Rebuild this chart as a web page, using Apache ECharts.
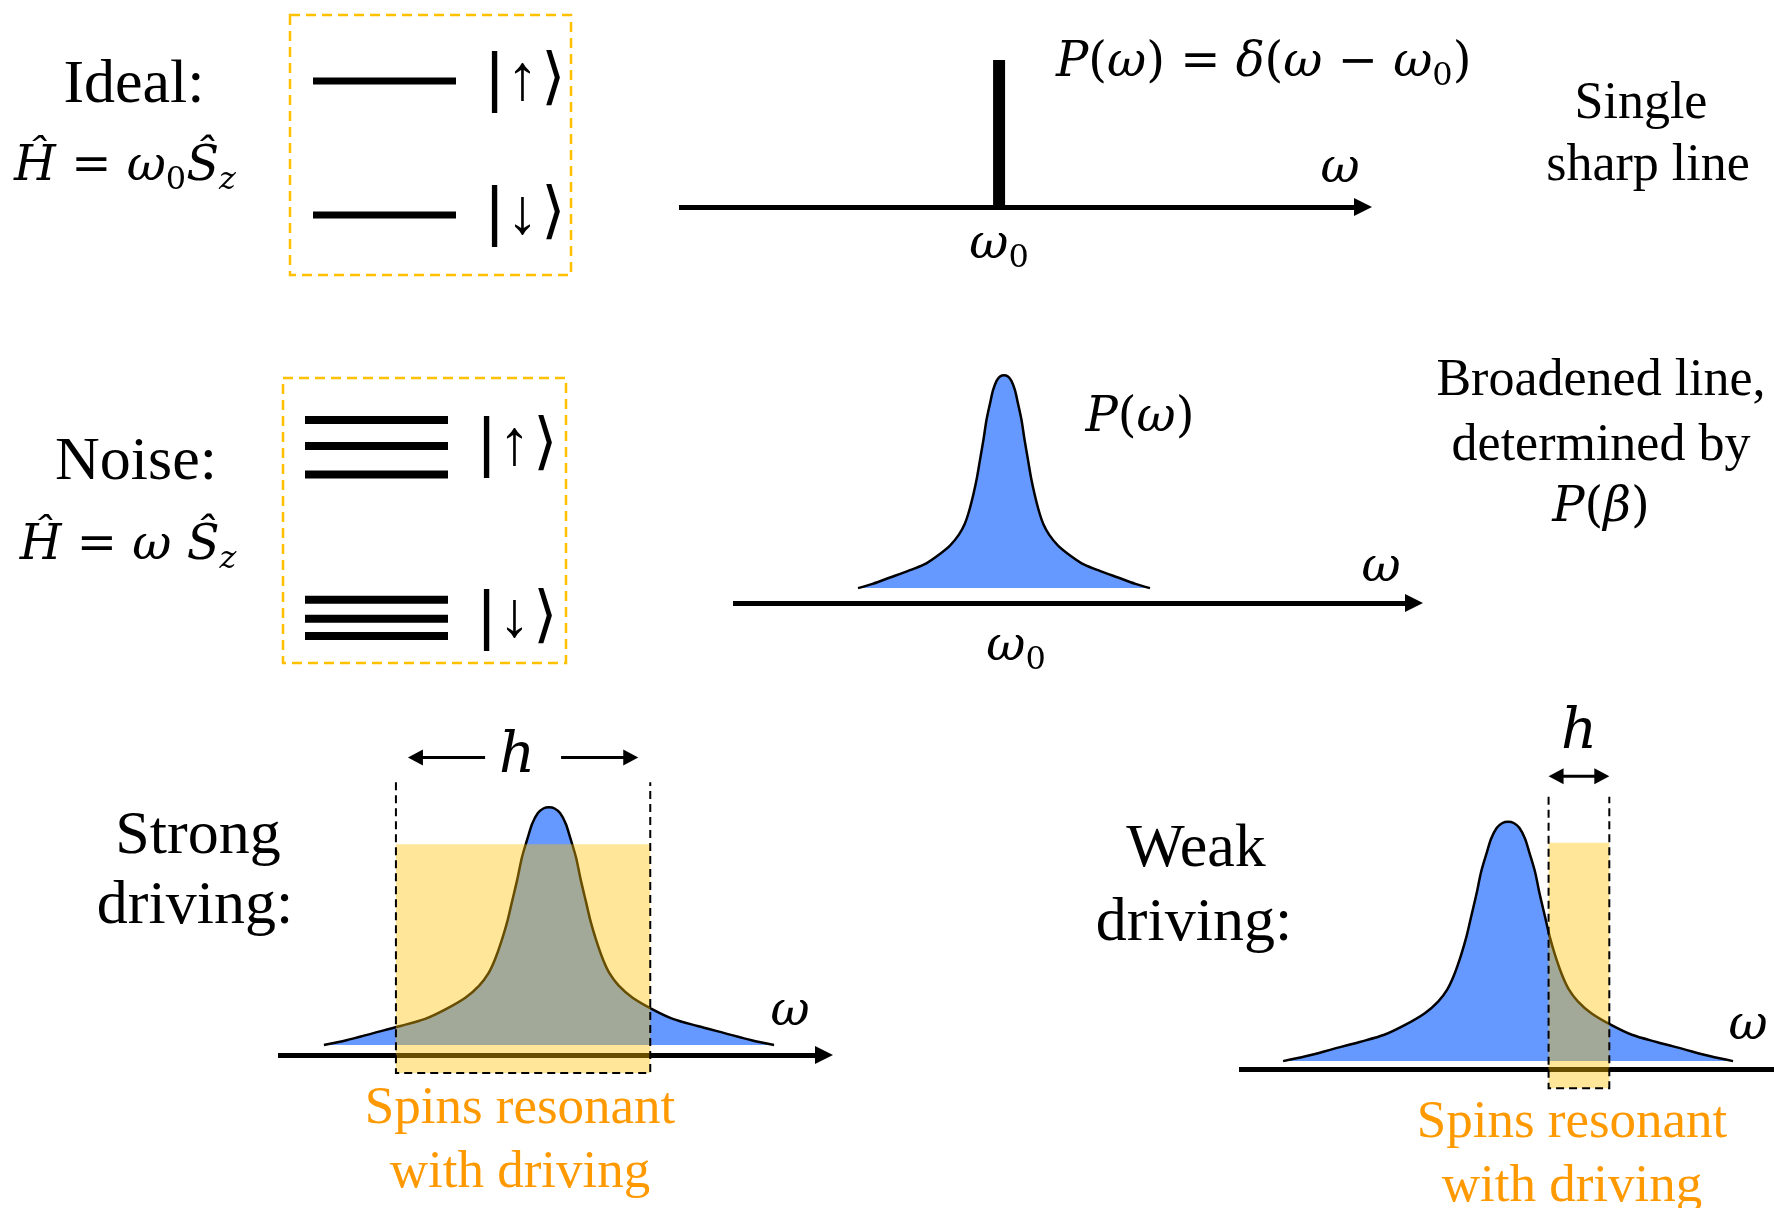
<!DOCTYPE html>
<html>
<head>
<meta charset="utf-8">
<title>Spin line broadening</title>
<script src="https://cdn.jsdelivr.net/npm/echarts@6/dist/echarts.min.js"></script>
<style>
html,body{margin:0;padding:0;background:#fff;}
#main{width:1774px;height:1208px;}
</style>
</head>
<body>
<div id="main"></div>
<script>
// line shape: offset from w0 in half widths, height with peak = 1
var lineOffset = [-1.00, -0.90, -0.78, -0.66, -0.55, -0.46, -0.37, -0.31, -0.27, -0.24, -0.21, -0.185, -0.165, -0.14, -0.12, -0.095, -0.075, -0.05, -0.025, 0,
	0.025, 0.05, 0.075, 0.095, 0.12, 0.14, 0.165, 0.185, 0.21, 0.24, 0.27, 0.31, 0.37, 0.46, 0.55, 0.66, 0.78, 0.90, 1.00];
var lineHeight = [0, 0.02, 0.05, 0.08, 0.11, 0.15, 0.20, 0.25, 0.30, 0.36, 0.44, 0.52, 0.60, 0.70, 0.79, 0.87, 0.93, 0.975, 0.995, 1.00,
	0.995, 0.975, 0.93, 0.87, 0.79, 0.70, 0.60, 0.52, 0.44, 0.36, 0.30, 0.25, 0.20, 0.15, 0.11, 0.08, 0.05, 0.02, 0];

// energy levels
var idealLevels = [1, -1];
var noiseUp = [1.3, 1.0, 0.67];
var noiseDown = [-0.78, -1.0, -1.2];
var kets = ['{b|\u007c}{a|↑}{k|⟩}', '{b|\u007c}{a|↓}{k|⟩}'];

// delta line of the ideal case
var deltaAt = [0, 0];
var deltaHeight = [0, 1];

// driving windows [low, high], half widths from w0
var strongWindow = [-0.68, 0.45];
var weakWindow = [0.18, 0.45];

var BLUE = '#6699FF', GOLD = '#FFC000', ORANGE = '#FF9900';
var SERIF = 'Liberation Serif', MATH = 'DejaVu Serif', SANS = 'DejaVu Sans';

var myChart = echarts.init(document.getElementById('main'), null, {renderer: 'canvas'});

function pairs(xs, ys) {
	var out = [];
	for (var i = 0; i < xs.length; i++) out.push([xs[i], ys[i]]);
	return out;
}

var mathRich = {
	it: {fontFamily: MATH, fontStyle: 'italic', fontSize: 48, lineHeight: 58, color: '#000'},
	n: {fontFamily: MATH, fontSize: 48, lineHeight: 58, color: '#000'},
	sub: {fontFamily: MATH, fontSize: 32, lineHeight: 28, verticalAlign: 'bottom', color: '#000'},
	subi: {fontFamily: MATH, fontStyle: 'italic', fontSize: 32, lineHeight: 28, verticalAlign: 'bottom', color: '#000'}
};

var ketRich = {
	b: {fontFamily: 'Liberation Sans', fontSize: 66, color: '#000', lineHeight: 70},
	a: {fontFamily: 'Liberation Sans', fontSize: 64, color: '#000', lineHeight: 70, padding: [0, 3, 0, 3]},
	k: {fontFamily: SANS, fontSize: 62, color: '#000', lineHeight: 70}
};

function grid(l, t, w, h) {
	return {left: l, top: t, width: w, height: h, outerBoundsMode: 'none', containLabel: false};
}

function hiddenAxis(g, min, max) {
	return {type: 'value', gridIndex: g, min: min, max: max, show: false};
}

function freqAxis(g, min, max, arrow, label) {
	var ax = {
		type: 'value', gridIndex: g, min: min, max: max,
		axisLine: {show: true, onZero: false, symbol: arrow ? ['none', 'triangle'] : 'none', symbolSize: [18, 18],
			lineStyle: {color: '#000', width: 5, cap: 'butt'}},
		axisTick: {show: false},
		splitLine: {show: false},
		axisLabel: {show: false}
	};
	if (label) {
		ax.axisLabel = {
			show: true, customValues: [0], margin: label.margin, padding: label.padding,
			formatter: function () { return '{it|ω}{sub|0}'; },
			rich: mathRich
		};
	}
	return ax;
}

function levelSeries(g, levels, width, ketLevel, ket) {
	var list = [];
	for (var i = 0; i < levels.length; i++) {
		var s = {
			type: 'line', xAxisIndex: g, yAxisIndex: g, data: [[0, levels[i]], [1, levels[i]]],
			showSymbol: false, symbol: 'none', clip: false, silent: true,
			lineStyle: {color: '#000', width: width, cap: 'butt'}
		};
		if (i == ketLevel || ketLevel < 0) {
			s.endLabel = {show: true, formatter: ketLevel < 0 ? ket[i] : ket, distance: 30, rich: ketRich};
		}
		list.push(s);
	}
	return list;
}

function peakSeries(g) {
	return {
		type: 'line', xAxisIndex: g, yAxisIndex: g, data: pairs(lineOffset, lineHeight),
		smooth: 0.3, showSymbol: false, symbol: 'none', silent: true, z: 2,
		lineStyle: {color: '#000', width: 2.5},
		areaStyle: {color: BLUE, opacity: 1}
	};
}

function head(tip, y, dir, len, w) {
	return {type: 'polygon', shape: {points: [[tip, y], [tip - dir * len, y - w], [tip - dir * len, y + w]]}, style: {fill: '#000'}};
}

function windowItem(cfg) {
	return function (params, api) {
		var lo = api.value(0), hi = api.value(1);
		var tl = api.coord([lo, cfg.top]);
		var br = api.coord([hi, cfg.bottom]);
		var yDash = api.coord([lo, cfg.dashTop])[1];
		var yArr = api.coord([lo, cfg.arrowAt])[1];
		var yLab = api.coord([lo, cfg.labelAt])[1];
		var xc = (tl[0] + br[0]) / 2;
		var kids = [
			{type: 'rect', shape: {x: tl[0], y: tl[1], width: br[0] - tl[0], height: br[1] - tl[1]},
				style: {fill: GOLD, opacity: 0.4}},
			{type: 'polyline', shape: {points: [[tl[0], yDash], [tl[0], br[1]], [br[0], br[1]], [br[0], yDash]]},
				style: {fill: null, stroke: '#000', lineWidth: 2, lineDash: [8, 5]}}
		];
		var a = tl[0] + cfg.inset, b = br[0] - cfg.inset;
		if (cfg.gap) {
			kids.push({type: 'line', shape: {x1: xc - cfg.gap, y1: yArr, x2: a + 12, y2: yArr}, style: {stroke: '#000', lineWidth: 3}});
			kids.push({type: 'line', shape: {x1: xc + cfg.gap, y1: yArr, x2: b - 12, y2: yArr}, style: {stroke: '#000', lineWidth: 3}});
		} else {
			kids.push({type: 'line', shape: {x1: a + 10, y1: yArr, x2: b - 10, y2: yArr}, style: {stroke: '#000', lineWidth: 3}});
		}
		kids.push(head(a, yArr, -1, 15, 8));
		kids.push(head(b, yArr, 1, 15, 8));
		kids.push({type: 'text', x: xc + cfg.labelDx, y: yLab,
			style: {text: 'h', fontFamily: MATH, fontStyle: 'italic', fontSize: 56, fill: '#000',
				align: 'center', verticalAlign: 'middle', textAlign: 'center', textVerticalAlign: 'middle'}});
		return {type: 'group', children: kids};
	};
}

function txt(x, y, s, size, color, align) {
	return {type: 'text', x: x, y: y, silent: true,
		style: {text: s, fontFamily: SERIF, fontSize: size, fill: color || '#000',
			align: align || 'center', verticalAlign: 'middle', textAlign: align || 'center', textVerticalAlign: 'middle'}};
}

function math(x, y, s, align) {
	return {type: 'text', x: x, y: y, silent: true,
		style: {text: s, rich: mathRich, fontFamily: MATH, fontSize: 48, fill: '#000',
			align: align || 'center', verticalAlign: 'middle', textAlign: align || 'center', textVerticalAlign: 'middle'}};
}

function box(x, y, w, h) {
	return {type: 'rect', silent: true, shape: {x: x, y: y, width: w, height: h},
		style: {fill: 'none', stroke: GOLD, lineWidth: 2.5, lineDash: [10, 6]}};
}

var series = [];
series = series.concat(levelSeries(0, idealLevels, 7, -1, kets));
series = series.concat(levelSeries(1, noiseUp, 8, 1, kets[0]));
series = series.concat(levelSeries(1, noiseDown, 8, 1, kets[1]));
series.push({
	type: 'line', xAxisIndex: 2, yAxisIndex: 2, data: pairs(deltaAt, deltaHeight),
	showSymbol: false, symbol: 'none', silent: true, lineStyle: {color: '#000', width: 12, cap: 'butt'}
});
series.push(peakSeries(3));
series.push(peakSeries(4));
series.push(peakSeries(5));
series.push({
	type: 'custom', xAxisIndex: 4, yAxisIndex: 4, data: [strongWindow], z: 5, silent: true,
	renderItem: windowItem({top: 0.845, bottom: -0.118, dashTop: 1.105, arrowAt: 1.21, labelAt: 1.21, gap: 38, inset: 12, labelDx: -6})
});
series.push({
	type: 'custom', xAxisIndex: 5, yAxisIndex: 5, data: [weakWindow], z: 5, silent: true,
	renderItem: windowItem({top: 0.912, bottom: -0.113, dashTop: 1.105, arrowAt: 1.19, labelAt: 1.37, gap: 0, inset: 0, labelDx: 0})
});

var option = {
	backgroundColor: '#fff',
	animation: false,
	grid: [
		grid(313, 81, 143, 134),
		grid(305, 420, 143, 216),
		grid(679, 60, 684, 147),
		grid(733, 354, 681, 249),
		grid(278, 736, 546, 319),
		grid(1239, 750, 535, 319)
	],
	xAxis: [
		hiddenAxis(0, 0, 1),
		hiddenAxis(1, 0, 1),
		freqAxis(2, -2.19, 2.49, true, {margin: 10, padding: 0}),
		freqAxis(3, -1.856, 2.808, true, {margin: 16, padding: [0, 0, 0, 24]}),
		freqAxis(4, -1.204, 1.222, true, null),
		freqAxis(5, -1.196, 1.182, false, null)
	],
	yAxis: [
		hiddenAxis(0, -1, 1),
		hiddenAxis(1, -1.2, 1.3),
		hiddenAxis(2, 0, 1),
		hiddenAxis(3, -0.07, 1.1),
		hiddenAxis(4, -0.042, 1.3),
		hiddenAxis(5, -0.033, 1.3)
	],
	series: series,
	graphic: [
		box(290, 15, 281, 260),
		box(283, 378, 283, 285),
		txt(134, 86, 'Ideal:', 62),
		math(125, 168, '{it|Ĥ} {n|=} {it|ω}{sub|0}{it|Ŝ}{subi|z}'),
		txt(136, 463, 'Noise:', 62),
		math(128, 547, '{it|Ĥ} {n|=} {it|ω} {it|Ŝ}{subi|z}'),
		math(1056, 64, '{it|P}{n|(}{it|ω}{n|) = }{it|δ}{n|(}{it|ω} {n|−} {it|ω}{sub|0}{n|)}', 'left'),
		math(1340, 170, '{it|ω}'),
		txt(1641, 104, 'Single', 52),
		txt(1648, 166, 'sharp line', 52),
		math(1140, 419, '{it|P}{n|(}{it|ω}{n|)}'),
		math(1381, 569, '{it|ω}'),
		txt(1601, 381, 'Broadened line,', 52),
		txt(1601, 446, 'determined by', 52),
		math(1601, 509, '{it|P}{n|(}{it|β}{n|)}'),
		txt(198, 837, 'Strong', 62),
		txt(195, 907, 'driving:', 62),
		math(790, 1013, '{it|ω}'),
		txt(520, 1109, 'Spins resonant', 53, ORANGE),
		txt(520, 1173, 'with driving', 53, ORANGE),
		txt(1196, 850, 'Weak', 62),
		txt(1194, 924, 'driving:', 62),
		math(1748, 1027, '{it|ω}'),
		txt(1572, 1123, 'Spins resonant', 53, ORANGE),
		txt(1572, 1187, 'with driving', 53, ORANGE)
	]
};

myChart.setOption(option);
</script>
</body>
</html>
